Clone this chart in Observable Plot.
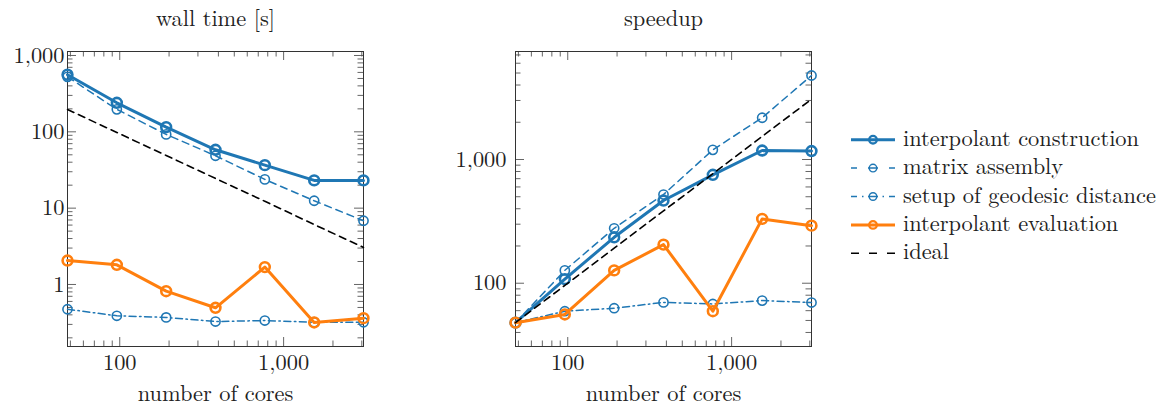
<!DOCTYPE html>
<html>
<head>
<meta charset="utf-8">
<script src="https://cdn.jsdelivr.net/npm/d3@7"></script>
<script src="https://cdn.jsdelivr.net/npm/@observablehq/plot@0.6"></script>
<style>
  html, body { margin: 0; padding: 0; background: #fff; }
  #wrap { position: relative; width: 1168px; height: 407px; overflow: hidden; }
  #left, #right, #legend { position: absolute; top: 0; }
  #left { left: 0; }
  #right { left: 440px; }
  #legend { left: 840px; top: 120px; }
</style>
</head>
<body>
<div id="wrap">
  <div id="left"></div>
  <div id="right"></div>
  <div id="legend"></div>
</div>
<script>
// ---------------- data ----------------
const cores = [48, 96, 192, 384, 768, 1536, 3072];

const wallConstruction = [560, 240, 115, 58.2, 36.6, 23.1, 23.1];
const wallMatrix       = [525, 197, 92.5, 48.6, 23.8, 12.5, 6.84];
const wallGeodesic     = [0.474, 0.389, 0.37, 0.327, 0.337, 0.32, 0.32];
const wallEvaluation   = [2.06, 1.81, 0.817, 0.495, 1.69, 0.318, 0.362];
const wallIdeal        = [196, 98, 49, 24.5, 12.3, 6.1, 3.06];

const speedupConstruction = [48, 108, 235, 466, 752, 1182, 1170];
const speedupMatrix       = [48, 127, 278, 521, 1197, 2175, 4775];
const speedupGeodesic     = [48, 59.4, 62.8, 70, 68, 72.4, 69.8];
const speedupEvaluation   = [48, 55.9, 127, 205, 59.4, 331, 292];
const speedupIdeal        = [48, 96, 192, 384, 768, 1536, 3072];

const seriesNames = ["interpolant construction", "matrix assembly", "setup of geodesic distance", "interpolant evaluation", "ideal"];

const xMajor = [100, 1000];
const xMinor = [50, 60, 70, 80, 90, 200, 300, 400, 500, 600, 700, 800, 900, 2000, 3000];
const wallMajor = [1, 10, 100, 1000];
const wallMinor = [0.2, 0.3, 0.4, 0.5, 0.6, 0.7, 0.8, 0.9, 2, 3, 4, 5, 6, 7, 8, 9, 20, 30, 40, 50, 60, 70, 80, 90, 200, 300, 400, 500, 600, 700, 800, 900];
const speedMajor = [100, 1000];
const speedMinor = [40, 50, 60, 70, 80, 90, 200, 300, 400, 500, 600, 700, 800, 900, 2000, 3000, 4000, 5000, 6000, 7000];

// ---------------- styles ----------------
const FONT = '"Latin Modern Roman", "Liberation Serif", serif';
const FSIZE = "22.4px";
const BLUE = "#1f77b4", ORANGE = "#ff7f0e";
const styles = [
  {color: BLUE,   lw: 3.0, dash: null,              r: 4.9, mw: 2.6},
  {color: BLUE,   lw: 1.5, dash: "7 5",             r: 4.6, mw: 1.6},
  {color: BLUE,   lw: 1.5, dash: "7 3.5 1.5 3.5",   r: 4.6, mw: 1.6},
  {color: ORANGE, lw: 3.0, dash: null,              r: 4.9, mw: 2.6},
  {color: "#000", lw: 1.6, dash: "7 5",             r: 0,   mw: 0}
];

const W = 400, H = 407, MT = 51, MB = 61;
const fmt = d3.format(",");

function rows(vals) { return cores.map((c, i) => ({cores: c, value: vals[i]})); }

function panel({title, yDomain, yMajor, yMinor, series, marginLeft, marginRight, yPad}) {
  const fw = W - marginLeft - marginRight, fh = H - MT - MB;
  const tickStroke = "#555";
  const marks = [
    Plot.tickY(yMinor, {y: d => d, insetRight: fw - 5.5, stroke: tickStroke, strokeWidth: 0.9}),
    Plot.tickY(yMinor, {y: d => d, insetLeft: fw - 5.5, stroke: tickStroke, strokeWidth: 0.9}),
    Plot.tickY(yMajor, {y: d => d, insetRight: fw - 9, stroke: tickStroke, strokeWidth: 0.9}),
    Plot.tickY(yMajor, {y: d => d, insetLeft: fw - 9, stroke: tickStroke, strokeWidth: 0.9}),
    Plot.tickX(xMinor, {x: d => d, insetTop: fh - 5.5, stroke: tickStroke, strokeWidth: 0.9}),
    Plot.tickX(xMinor, {x: d => d, insetBottom: fh - 5.5, stroke: tickStroke, strokeWidth: 0.9}),
    Plot.tickX(xMajor, {x: d => d, insetTop: fh - 9, stroke: tickStroke, strokeWidth: 0.9}),
    Plot.tickX(xMajor, {x: d => d, insetBottom: fh - 9, stroke: tickStroke, strokeWidth: 0.9}),
    Plot.frame({stroke: "#333", strokeWidth: 1}),
    Plot.axisY({ticks: yMajor, tickSize: 0, tickPadding: yPad, tickFormat: fmt, label: null}),
    Plot.axisX({ticks: xMajor, tickSize: 0, tickPadding: 7.5, tickFormat: fmt, label: null}),
    Plot.text([title], {text: d => d, frameAnchor: "top", dy: -26, lineAnchor: "bottom", fill: "#222"}),
    Plot.text(["number of cores"], {text: d => d, frameAnchor: "bottom", dy: 54, lineAnchor: "bottom", fill: "#222"})
  ];
  series.forEach((vals, i) => {
    const s = styles[i];
    const data = rows(vals);
    marks.push(Plot.line(data, {x: "cores", y: "value", stroke: s.color, strokeWidth: s.lw,
      strokeDasharray: s.dash || undefined, strokeLinejoin: "round"}));
    if (s.r > 0) marks.push(Plot.dot(data, {x: "cores", y: "value", r: s.r, stroke: s.color,
      strokeWidth: s.mw, fill: "none", symbol: "circle"}));
  });
  return Plot.plot({
    width: W, height: H, marginLeft, marginRight, marginTop: MT, marginBottom: MB,
    x: {type: "log", domain: [48, 3072]},
    y: {type: "log", domain: yDomain},
    style: {fontFamily: FONT, fontSize: FSIZE, color: "#222", background: "transparent", overflow: "visible"},
    marks
  });
}

document.getElementById("left").append(panel({
  title: "wall time [s]",
  yDomain: [0.154, 1128], yMajor: wallMajor, yMinor: wallMinor,
  series: [wallConstruction, wallMatrix, wallGeodesic, wallEvaluation, wallIdeal],
  marginLeft: 67, marginRight: 37, yPad: 3
}));
document.getElementById("right").append(panel({
  title: "speedup",
  yDomain: [30.8, 7464], yMajor: speedMajor, yMinor: speedMinor,
  series: [speedupConstruction, speedupMatrix, speedupGeodesic, speedupEvaluation, speedupIdeal],
  marginLeft: 75, marginRight: 29, yPad: 9
}));

// ---------------- legend ----------------
const legendDash = [null, "6 11 10 11 6", "6 5 1.5 4.5 10 4.5 1.5 5 6", null, "8 10 8 10 8"];
const lsvg = d3.select("#legend").append("svg").attr("width", 328).attr("height", 150)
  .style("font-family", FONT).style("font-size", FSIZE);
seriesNames.forEach((name, i) => {
  const s = styles[i];
  const cy = 19.7 + 28.4 * i;
  const g = lsvg.append("g");
  g.append("line").attr("x1", 11).attr("x2", 55).attr("y1", cy).attr("y2", cy)
    .attr("stroke", s.color).attr("stroke-width", s.lw).attr("stroke-dasharray", legendDash[i]);
  if (s.r > 0) g.append("circle").attr("cx", 33).attr("cy", cy).attr("r", 3.8)
    .attr("fill", "none").attr("stroke", s.color).attr("stroke-width", s.mw * 0.9);
  g.append("text").attr("x", 63).attr("y", cy + 6).attr("fill", "#222").text(name);
});
</script>
</body>
</html>
